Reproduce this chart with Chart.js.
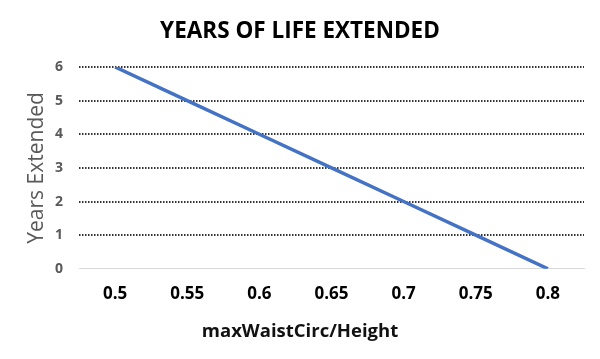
<!DOCTYPE html>
<html>
<head>
<meta charset="utf-8">
<script src="https://cdn.jsdelivr.net/npm/chart.js@4/dist/chart.umd.min.js"></script>
<style>
  html, body { margin: 0; padding: 0; background: #fff; }
  #wrap { width: 600px; height: 359px; }
</style>
</head>
<body>
<div id="wrap"><canvas id="chart" width="600" height="359"></canvas></div>
<script>
// values
const ratios = ["0.5", "0.55", "0.6", "0.65", "0.7", "0.75", "0.8"];
const yearsExtended = [6, 5, 4, 3, 2, 1, 0];
const yMin = 0;
const yMax = 6;
const yStep = 1;

const FONT = "'Open Sans', 'DejaVu Sans', sans-serif";

new Chart(document.getElementById("chart"), {
  type: "line",
  data: {
    labels: ratios,
    datasets: [{
      data: yearsExtended,
      borderColor: "#4472C4",
      backgroundColor: "#4472C4",
      borderWidth: 3.5,
      pointRadius: 0,
      tension: 0,
    }],
  },
  options: {
    responsive: false,
    animation: false,
    layout: { padding: { left: 16, right: 16, top: 0, bottom: 0 } },
    plugins: {
      legend: { display: false },
      tooltip: { enabled: false },
      title: {
        display: true,
        text: "YEARS OF LIFE EXTENDED",
        color: "#000",
        font: { family: FONT, size: 22.5, weight: "bold" },
        padding: { top: 18, bottom: 22 },
      },
      // x axis caption is centred on the whole picture, not the plot
      subtitle: {
        display: true,
        position: "bottom",
        text: "maxWaistCirc/Height",
        color: "#111",
        font: { family: FONT, size: 18.5, weight: "bold" },
        padding: { top: 5, bottom: 16 },
      },
    },
    scales: {
      x: {
        offset: true,
        grid: { display: false, drawTicks: false },
        border: { display: true, color: "#d9d9d9", width: 1 },
        ticks: {
          color: "#000",
          padding: 15,
          font: { family: FONT, size: 17, weight: "bold" },
        },
        afterFit: (scale) => { scale.height = 47; },
      },
      y: {
        min: yMin,
        max: yMax,
        grid: {
          drawTicks: false,
          color: (ctx) => (ctx.tick && ctx.tick.value === 0 ? "rgba(0,0,0,0)" : "#333"),
          lineWidth: 2,
        },
        border: { display: false, dash: [1.5, 1.5] },
        ticks: {
          stepSize: yStep,
          color: "#595959",
          padding: 16,
          font: { family: FONT, size: 14, weight: "bold" },
        },
        title: {
          display: true,
          text: "Years Extended",
          color: "#595959",
          font: { family: FONT, size: 21 },
          padding: { top: 8, bottom: 0 },
        },
        afterFit: (scale) => { scale.width = 63; },
      },
    },
  },
});
</script>
</body>
</html>
